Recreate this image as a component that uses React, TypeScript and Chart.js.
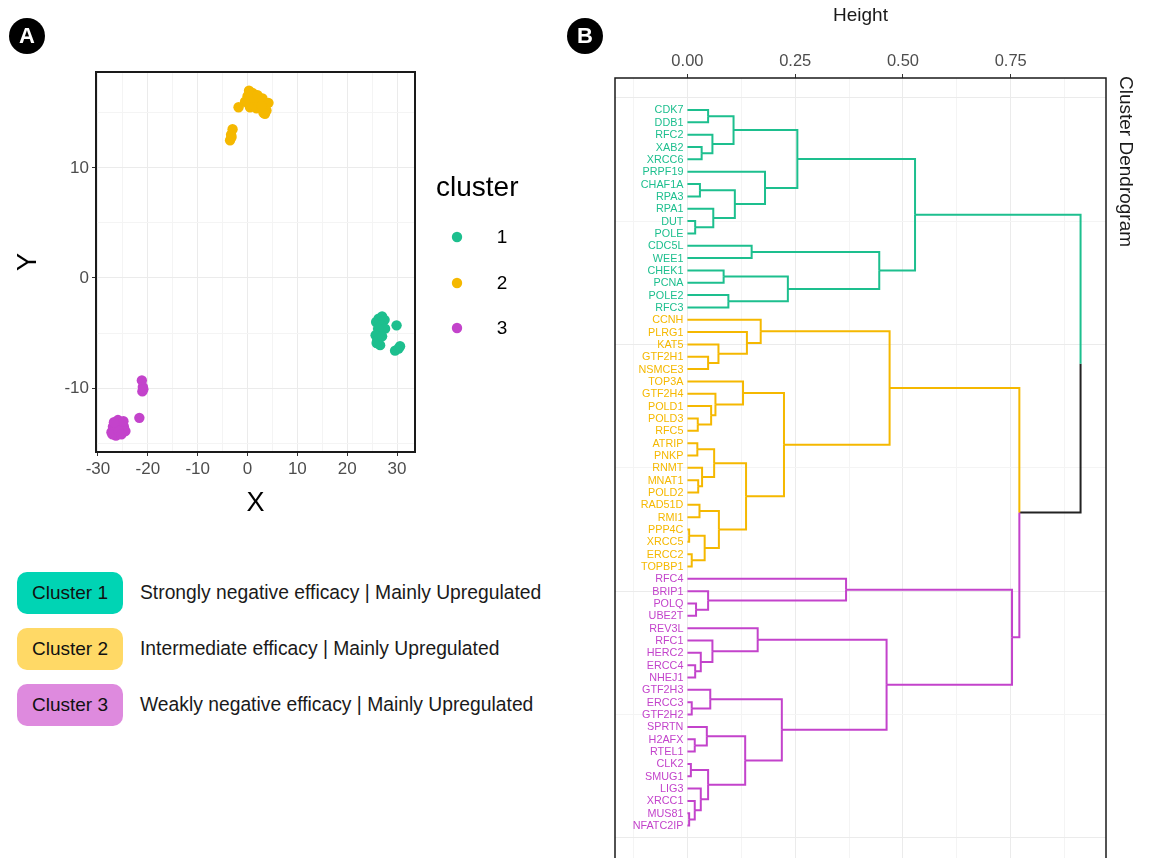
import React, { useEffect, useRef } from "react";
import { Chart, registerables } from "chart.js";

Chart.register(...registerables);

const FONT = '"Liberation Sans", Arial, Helvetica, sans-serif';
const TICK_GREY = "#4D4D4D";
const GRID_MAJOR = "#EBEBEB";
const GRID_MINOR = "#F4F4F4";

// ---------------- Panel A data ----------------
const clusterNames = ["1", "2", "3"];
const clusterColors = ["#1DBF8E", "#F5B800", "#C343CB"];

const cluster1X = [25.8, 26.3, 27.0, 27.5, 26.8, 27.6, 26.2, 25.7, 26.3, 25.9, 26.6, 26.0, 27.0, 29.9, 29.6, 30.3, 30.6];
const cluster1Y = [-4.0, -3.7, -3.5, -3.8, -4.3, -4.6, -4.6, -5.2, -5.5, -5.9, -6.1, -5.7, -5.3, -4.3, -6.6, -6.4, -6.2];
const cluster2X = [-3.5, -3.3, -3.0, -3.2, -1.8, 0.0, 0.3, 1.0, 1.5, 0.8, 2.0, 2.5, 3.0, 4.2, 3.8, 3.5, 3.2, 0.5, -0.5, 1.8, 2.8];
const cluster2Y = [12.5, 13.0, 13.5, 12.8, 15.5, 16.5, 17.0, 16.8, 16.2, 15.8, 16.6, 16.0, 16.3, 15.9, 15.2, 14.9, 15.0, 15.5, 16.0, 15.4, 15.6];
const cluster3X = [-21.2, -21.0, -21.1, -20.9, -21.7, -27.3, -27.0, -26.6, -26.2, -26.0, -25.7, -25.2, -24.8, -24.5, -25.5, -26.4, -27.1, -25.9, -24.9, -26.8, -25.3];
const cluster3Y = [-9.3, -9.9, -10.3, -10.1, -12.7, -14.0, -13.5, -13.8, -13.3, -12.9, -13.6, -13.2, -13.5, -13.9, -14.1, -14.3, -14.2, -13.9, -13.0, -13.1, -14.2];

const xGridTicks = [-30, -25, -20, -15, -10, -5, 0, 5, 10, 15, 20, 25, 30];
const xLabelTicks = [-30, -20, -10, 0, 10, 20, 30];
const yGridTicks = [-15, -10, -5, 0, 5, 10, 15];
const yLabelTicks = [-10, 0, 10];

// ---------------- Panel B data ----------------
const leaves1 = ["CDK7", "DDB1", "RFC2", "XAB2", "XRCC6", "PRPF19", "CHAF1A", "RPA3", "RPA1", "DUT", "POLE", "CDC5L", "WEE1", "CHEK1", "PCNA", "POLE2", "RFC3"];
const leaves2 = ["CCNH", "PLRG1", "KAT5", "GTF2H1", "NSMCE3", "TOP3A", "GTF2H4", "POLD1", "POLD3", "RFC5", "ATRIP", "PNKP", "RNMT", "MNAT1", "POLD2", "RAD51D", "RMI1", "PPP4C", "XRCC5", "ERCC2", "TOPBP1"];
const leaves3 = ["RFC4", "BRIP1", "POLQ", "UBE2T", "REV3L", "RFC1", "HERC2", "ERCC4", "NHEJ1", "GTF2H3", "ERCC3", "GTF2H2", "SPRTN", "H2AFX", "RTEL1", "CLK2", "SMUG1", "LIG3", "XRCC1", "MUS81", "NFATC2IP"];

// [childA, childB, height]; a child is a leaf name or the index of an earlier merge
const merges: [string | number, string | number, number][] = [
  ["CDK7", "DDB1", 0.048],
  ["XAB2", "XRCC6", 0.033],
  ["RFC2", 1, 0.058],
  [0, 2, 0.107],
  ["CHAF1A", "RPA3", 0.029],
  ["DUT", "POLE", 0.018],
  ["RPA1", 5, 0.06],
  [4, 6, 0.11],
  ["PRPF19", 7, 0.18],
  [3, 8, 0.255],
  ["CDC5L", "WEE1", 0.149],
  ["CHEK1", "PCNA", 0.084],
  ["POLE2", "RFC3", 0.095],
  [11, 12, 0.233],
  [10, 13, 0.445],
  [9, 14, 0.528],
  ["GTF2H1", "NSMCE3", 0.048],
  ["KAT5", 16, 0.072],
  ["PLRG1", 17, 0.138],
  ["CCNH", 18, 0.17],
  ["POLD3", "RFC5", 0.024],
  ["POLD1", 20, 0.055],
  ["GTF2H4", 21, 0.065],
  ["TOP3A", 22, 0.129],
  ["ATRIP", "PNKP", 0.023],
  ["MNAT1", "POLD2", 0.025],
  ["RNMT", 25, 0.034],
  [24, 26, 0.062],
  ["RAD51D", "RMI1", 0.028],
  ["PPP4C", "XRCC5", 0.004],
  ["ERCC2", "TOPBP1", 0.01],
  [29, 30, 0.04],
  [28, 31, 0.073],
  [27, 32, 0.136],
  [23, 33, 0.224],
  [19, 34, 0.469],
  ["POLQ", "UBE2T", 0.02],
  ["BRIP1", 36, 0.048],
  ["RFC4", 37, 0.368],
  ["ERCC4", "NHEJ1", 0.018],
  ["HERC2", 39, 0.031],
  ["RFC1", 40, 0.058],
  ["REV3L", 41, 0.163],
  ["ERCC3", "GTF2H2", 0.01],
  ["GTF2H3", 43, 0.053],
  ["H2AFX", "RTEL1", 0.017],
  ["SPRTN", 45, 0.045],
  ["CLK2", "SMUG1", 0.008],
  ["MUS81", "NFATC2IP", 0.004],
  ["XRCC1", 48, 0.017],
  ["LIG3", 49, 0.031],
  [47, 50, 0.048],
  [46, 51, 0.134],
  [44, 52, 0.219],
  [42, 53, 0.462],
  [38, 54, 0.753],
  [35, 55, 0.77],
  [15, 56, 0.912],
];

const heightGridTicks = [-0.125, 0, 0.125, 0.25, 0.375, 0.5, 0.625, 0.75, 0.875];
const heightLabelTicks = [0, 0.25, 0.5, 0.75];
const leafGridTicks = [0, 10, 20, 30, 40, 50, 60];

const dendroColors = ["#1DBF8E", "#F5B800", "#C343CB"];
const linkColor = "#222222";

const legendBoxes = [
  { label: "Cluster 1", text: "Strongly negative efficacy | Mainly Upregulated", color: "#00D4B4" },
  { label: "Cluster 2", text: "Intermediate efficacy | Mainly Upregulated", color: "#FFD966" },
  { label: "Cluster 3", text: "Weakly negative efficacy | Mainly Upregulated", color: "#DE8ADE" },
];

// ---------------- helpers ----------------
const allLeaves = [...leaves1, ...leaves2, ...leaves3];
const leafCluster = [...leaves1.map(() => 0), ...leaves2.map(() => 1), ...leaves3.map(() => 2)];

function buildSegments() {
  const nodes: { h: number; y: number; c: number }[] = [];
  const segs: { c: number; pts: { x: number; y: number }[] }[] = [];
  const info = (ch: string | number) => {
    if (typeof ch === "string") {
      const i = allLeaves.indexOf(ch);
      return { h: 0, y: i + 1, c: leafCluster[i] };
    }
    return nodes[ch];
  };
  merges.forEach(([a, b, h]) => {
    const A = info(a);
    const B = info(b);
    const y = (A.y + B.y) / 2;
    [A, B].forEach((C) => {
      segs.push({ c: C.c, pts: [{ x: C.h, y: C.y }, { x: h, y: C.y }, { x: h, y }] });
    });
    nodes.push({ h, y, c: A.c === B.c ? A.c : -1 });
  });
  return segs;
}

const framePlugin = (width: number) => ({
  id: "frame",
  afterDraw(chart: any) {
    const { ctx, chartArea: a } = chart;
    ctx.save();
    ctx.strokeStyle = "#1A1A1A";
    ctx.lineWidth = width;
    ctx.strokeRect(a.left, a.top, a.right - a.left, a.bottom - a.top);
    ctx.restore();
  },
});

const gridColor = (labels: number[]) => (c: any) =>
  c.tick && labels.includes(c.tick.value) ? GRID_MAJOR : GRID_MINOR;
const tickMarkColor = (labels: number[]) => (c: any) =>
  c.tick && labels.includes(c.tick.value) ? "#333333" : "rgba(0,0,0,0)";

function ScatterPanel() {
  const ref = useRef<HTMLCanvasElement>(null);
  useEffect(() => {
    const xs = [cluster1X, cluster2X, cluster3X];
    const ys = [cluster1Y, cluster2Y, cluster3Y];
    const legendPlugin = {
      id: "clusterLegend",
      afterDraw(chart: any) {
        const { ctx } = chart;
        ctx.save();
        ctx.fillStyle = "#000";
        ctx.font = `28px ${FONT}`;
        ctx.textAlign = "left";
        ctx.textBaseline = "middle";
        ctx.fillText("cluster", 436, 188);
        const rows = [237, 283, 328];
        clusterNames.forEach((n, i) => {
          ctx.beginPath();
          ctx.fillStyle = clusterColors[i];
          ctx.arc(457, rows[i], 5.2, 0, Math.PI * 2);
          ctx.fill();
          ctx.fillStyle = "#000";
          ctx.font = `19px ${FONT}`;
          ctx.textAlign = "center";
          ctx.fillText(n, 502, rows[i] + 1);
        });
        ctx.restore();
      },
    };
    const chart = new Chart(ref.current!, {
      type: "scatter",
      data: {
        datasets: clusterNames.map((n, i) => ({
          label: n,
          data: xs[i].map((x, j) => ({ x, y: ys[i][j] })),
          backgroundColor: clusterColors[i],
          borderColor: clusterColors[i],
          borderWidth: 0,
          pointRadius: 5.2,
          pointHoverRadius: 5.2,
        })),
      },
      options: {
        animation: false,
        responsive: false,
        events: [],
        layout: { padding: { top: 72, right: 145, left: 0, bottom: 0 } },
        plugins: { legend: { display: false }, tooltip: { enabled: false } },
        scales: {
          x: {
            type: "linear",
            position: "bottom",
            min: -30.4,
            max: 33.6,
            afterBuildTicks: (s: any) => {
              s.ticks = xGridTicks.map((v) => ({ value: v }));
            },
            afterFit: (s: any) => {
              s.height = 73;
            },
            ticks: {
              autoSkip: false,
              maxRotation: 0,
              padding: 3,
              color: TICK_GREY,
              font: { size: 17, family: FONT },
              callback: (v: any) => (xLabelTicks.includes(Number(v)) ? String(v) : ""),
            },
            grid: { color: gridColor(xLabelTicks), lineWidth: 1, tickLength: 4, tickColor: tickMarkColor(xLabelTicks) },
            border: { display: false },
            title: { display: true, text: "X", color: "#000", font: { size: 27, family: FONT }, padding: { top: 0, bottom: 5 } },
          },
          y: {
            type: "linear",
            position: "left",
            min: -15.8,
            max: 18.7,
            afterBuildTicks: (s: any) => {
              s.ticks = yGridTicks.map((v) => ({ value: v }));
            },
            afterFit: (s: any) => {
              s.width = 96;
            },
            ticks: {
              autoSkip: false,
              padding: 3,
              color: TICK_GREY,
              font: { size: 17, family: FONT },
              callback: (v: any) => (yLabelTicks.includes(Number(v)) ? String(v) : ""),
            },
            grid: { color: gridColor(yLabelTicks), lineWidth: 1, tickLength: 4, tickColor: tickMarkColor(yLabelTicks) },
            border: { display: false },
            title: { display: true, text: "Y", color: "#000", font: { size: 27, family: FONT }, padding: { top: 12, bottom: 0 } },
          },
        },
      },
      plugins: [framePlugin(2), legendPlugin],
    } as any);
    return () => chart.destroy();
  }, []);
  return <canvas ref={ref} width={560} height={525} style={{ position: "absolute", left: 0, top: 0 }} />;
}

function DendroPanel() {
  const ref = useRef<HTMLCanvasElement>(null);
  useEffect(() => {
    const segs = buildSegments();
    const labelPlugin = {
      id: "leafLabels",
      afterDatasetsDraw(chart: any) {
        const { ctx, scales } = chart;
        const x0 = scales.x.getPixelForValue(0) - 4;
        ctx.save();
        ctx.font = `10.8px ${FONT}`;
        ctx.textAlign = "right";
        ctx.textBaseline = "middle";
        allLeaves.forEach((name, i) => {
          ctx.fillStyle = dendroColors[leafCluster[i]];
          ctx.fillText(name, x0, scales.y.getPixelForValue(i + 1) + 0.5);
        });
        ctx.restore();
      },
    };
    const sideTitlePlugin = {
      id: "sideTitle",
      afterDraw(chart: any) {
        const { ctx, chartArea } = chart;
        ctx.save();
        ctx.translate(chartArea.right + 19, chartArea.top - 2);
        ctx.rotate(Math.PI / 2);
        ctx.font = `19px ${FONT}`;
        ctx.fillStyle = "#1A1A1A";
        ctx.textAlign = "left";
        ctx.textBaseline = "middle";
        ctx.fillText("Cluster Dendrogram", 0, 0);
        ctx.restore();
      },
    };
    const chart = new Chart(ref.current!, {
      type: "scatter",
      data: {
        datasets: segs.map((s) => ({
          data: s.pts,
          showLine: true,
          borderColor: s.c >= 0 ? dendroColors[s.c] : linkColor,
          backgroundColor: s.c >= 0 ? dendroColors[s.c] : linkColor,
          borderWidth: 2,
          pointRadius: 0,
          pointHoverRadius: 0,
          borderJoinStyle: "miter",
          borderCapStyle: "butt",
        })),
      },
      options: {
        animation: false,
        responsive: false,
        events: [],
        layout: { padding: { top: 0, right: 0, left: 55, bottom: 0 } },
        plugins: { legend: { display: false }, tooltip: { enabled: false } },
        scales: {
          x: {
            type: "linear",
            position: "top",
            min: -0.168,
            max: 0.971,
            afterBuildTicks: (s: any) => {
              s.ticks = heightGridTicks.map((v) => ({ value: v }));
            },
            afterFit: (s: any) => {
              s.height = 78;
            },
            ticks: {
              autoSkip: false,
              maxRotation: 0,
              padding: 3,
              color: TICK_GREY,
              font: { size: 16.5, family: FONT },
              callback: (v: any) => (heightLabelTicks.includes(Number(v)) ? Number(v).toFixed(2) : ""),
            },
            grid: { color: gridColor(heightLabelTicks), lineWidth: 1, tickLength: 4, tickColor: tickMarkColor(heightLabelTicks) },
            border: { display: false },
            title: { display: true, text: "Height", color: "#1A1A1A", font: { size: 19, family: FONT }, padding: { top: 4, bottom: 0 } },
          },
          y: {
            type: "linear",
            position: "right",
            reverse: true,
            min: -1.595,
            max: 62.6,
            afterBuildTicks: (s: any) => {
              s.ticks = leafGridTicks.map((v) => ({ value: v }));
            },
            afterFit: (s: any) => {
              s.width = 43;
            },
            ticks: { display: false },
            grid: { color: gridColor([0, 20, 40, 60]), lineWidth: 1, drawTicks: false },
            border: { display: false },
            title: { display: false },
          },
        },
      },
      plugins: [labelPlugin, framePlugin(1.5), sideTitlePlugin],
    } as any);
    return () => chart.destroy();
  }, []);
  return <canvas ref={ref} width={589} height={870} style={{ position: "absolute", left: 560, top: 0 }} />;
}

const badge = (letter: string, left: number) => (
  <div
    style={{
      position: "absolute",
      left,
      top: 18,
      width: 36,
      height: 36,
      borderRadius: "50%",
      background: "#000",
      color: "#fff",
      fontFamily: FONT,
      fontWeight: "bold",
      fontSize: 22,
      lineHeight: "36px",
      textAlign: "center",
    }}
  >
    {letter}
  </div>
);

export default function App() {
  return (
    <div
      style={{
        position: "absolute",
        left: 0,
        top: 0,
        width: 1149,
        height: 858,
        overflow: "hidden",
        background: "#fff",
        fontFamily: FONT,
      }}
    >
      <ScatterPanel />
      <DendroPanel />
      {badge("A", 9)}
      {badge("B", 567)}
      {legendBoxes.map((b, i) => (
        <React.Fragment key={b.label}>
          <div
            style={{
              position: "absolute",
              left: 17,
              top: 572 + i * 56,
              width: 106,
              height: 42,
              borderRadius: 10,
              background: b.color,
              color: "#111",
              fontSize: 19,
              lineHeight: "42px",
              textAlign: "center",
              whiteSpace: "nowrap",
            }}
          >
            {b.label}
          </div>
          <div
            style={{
              position: "absolute",
              left: 140,
              top: 572 + i * 56,
              height: 42,
              lineHeight: "42px",
              fontSize: 19.3,
              color: "#1A1A1A",
              whiteSpace: "nowrap",
            }}
          >
            {b.text}
          </div>
        </React.Fragment>
      ))}
    </div>
  );
}
